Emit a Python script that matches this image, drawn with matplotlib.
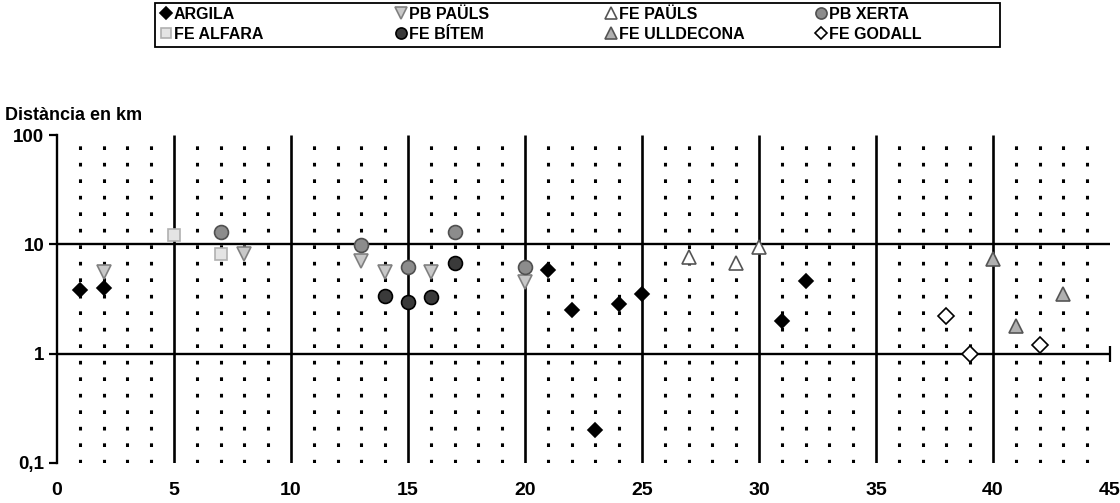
import matplotlib
matplotlib.use('Agg')
import matplotlib.pyplot as plt
from matplotlib.patches import Rectangle
from matplotlib.ticker import NullLocator

plt.rcParams['font.family'] = ['Liberation Sans', 'DejaVu Sans']
plt.rcParams['font.weight'] = 'bold'

# Dades (distància en km per punt de mostreig)
argila_x = [1, 2, 21, 22, 23, 24, 25, 31, 32]
argila_y = [3.8, 4.0, 5.8, 2.5, 0.2, 2.85, 3.5, 2.0, 4.6]

pb_pauls_x = [2, 8, 13, 14, 16, 20]
pb_pauls_y = [5.6, 8.1, 7.0, 5.6, 5.6, 4.5]

fe_pauls_x = [27, 29, 30]
fe_pauls_y = [7.6, 6.7, 9.5]

pb_xerta_x = [7, 13, 15, 17, 20]
pb_xerta_y = [13.1, 9.8, 6.2, 13.1, 6.2]

fe_alfara_x = [5, 7]
fe_alfara_y = [12.3, 8.1]

fe_bitem_x = [14, 15, 16, 17]
fe_bitem_y = [3.4, 3.0, 3.3, 6.7]

fe_ulldecona_x = [40, 41, 43]
fe_ulldecona_y = [7.3, 1.8, 3.5]

fe_godall_x = [38, 39, 42]
fe_godall_y = [2.2, 1.0, 1.2]

x_ticks = [0, 5, 10, 15, 20, 25, 30, 35, 40, 45]
y_ticks = [0.1, 1, 10, 100]
y_tick_labels = ['0,1', '1', '10', '100']

# sèries: (etiqueta, x, y, marcador, farciment, vora, mida)
series = [
    ('ARGILA', argila_x, argila_y, 'D', 'black', 'black', 7.5),
    ('FE ALFARA', fe_alfara_x, fe_alfara_y, 's', '#e4e4e4', '#b0b0b0', 9),
    ('PB PAÜLS', pb_pauls_x, pb_pauls_y, 'v', '#c8c8c8', '#808080', 10),
    ('FE BÍTEM', fe_bitem_x, fe_bitem_y, 'o', '#3a3a3a', 'black', 10),
    ('FE PAÜLS', fe_pauls_x, fe_pauls_y, '^', 'white', '#555555', 10),
    ('FE ULLDECONA', fe_ulldecona_x, fe_ulldecona_y, '^', '#b0b0b0', '#555555', 10),
    ('PB XERTA', pb_xerta_x, pb_xerta_y, 'o', '#8c8c8c', '#505050', 10),
    ('FE GODALL', fe_godall_x, fe_godall_y, 'D', 'white', 'black', 8),
]

W, H = 1120, 503
fig = plt.figure(figsize=(W / 100, H / 100), dpi=100)
ax = fig.add_axes([57 / W, 1 - 463 / H, (1110 - 57) / W, (463 - 135) / H])

ax.set_yscale('log')
ax.set_xlim(0, 45)
ax.set_ylim(0.1, 100)

# graella: línies de punts a cada unitat, línies sòlides cada 5
minor_x = [i for i in range(1, 45) if i % 5 != 0]
ax.vlines(minor_x, 0.1, 100, colors='black', linewidth=2.2,
          linestyles=[(0, (1.2, 4.2))], zorder=1)
ax.vlines(x_ticks[1:-1], 0.1, 100, colors='black', linewidth=1.9, zorder=1)
ax.hlines([1, 10], 0, 45, colors='black', linewidth=1.7, zorder=1)
ax.plot([45], [1], marker='|', markersize=11, markeredgewidth=1.6,
        color='black', clip_on=False, zorder=1)

handles = []
for label, xs, ys, mk, fc, ec, ms in series:
    h, = ax.plot(xs, ys, linestyle='none', marker=mk, markersize=ms,
                 markerfacecolor=fc, markeredgecolor=ec, markeredgewidth=1.2,
                 label=label, zorder=3, clip_on=False)
    handles.append(h)

for side in ['top', 'right', 'bottom']:
    ax.spines[side].set_visible(False)
ax.spines['left'].set_linewidth(1.7)

ax.set_yticks(y_ticks, y_tick_labels)
ax.yaxis.set_minor_locator(NullLocator())
ax.set_xticks(x_ticks, [str(v) for v in x_ticks])
ax.tick_params(axis='y', length=6, width=1.6, pad=3, labelsize=13.5)
ax.tick_params(axis='x', length=0, pad=14, labelsize=14)

fig.text(5 / W, 1 - 115 / H, 'Distància en km', fontsize=13,
         fontweight='bold', ha='left', va='center')

# llegenda: marc i quatre columnes
fig.add_artist(Rectangle((155 / W, 1 - 47 / H), 845 / W, 44 / H,
                         transform=fig.transFigure, fill=False,
                         edgecolor='black', linewidth=1.3))
col_x = [160, 395, 605, 815]
for c in range(4):
    leg = fig.legend(handles=handles[2 * c:2 * c + 2], loc='upper left',
                     bbox_to_anchor=(col_x[c] / W, 1 - 7 / H), frameon=False,
                     fontsize=11.5, handlelength=0.7, handletextpad=0.15,
                     borderpad=0, borderaxespad=0, labelspacing=0.3,
                     markerscale=0.8)
    for t in leg.get_texts():
        t.set_fontweight('bold')

fig.savefig('out.png', dpi=100)
